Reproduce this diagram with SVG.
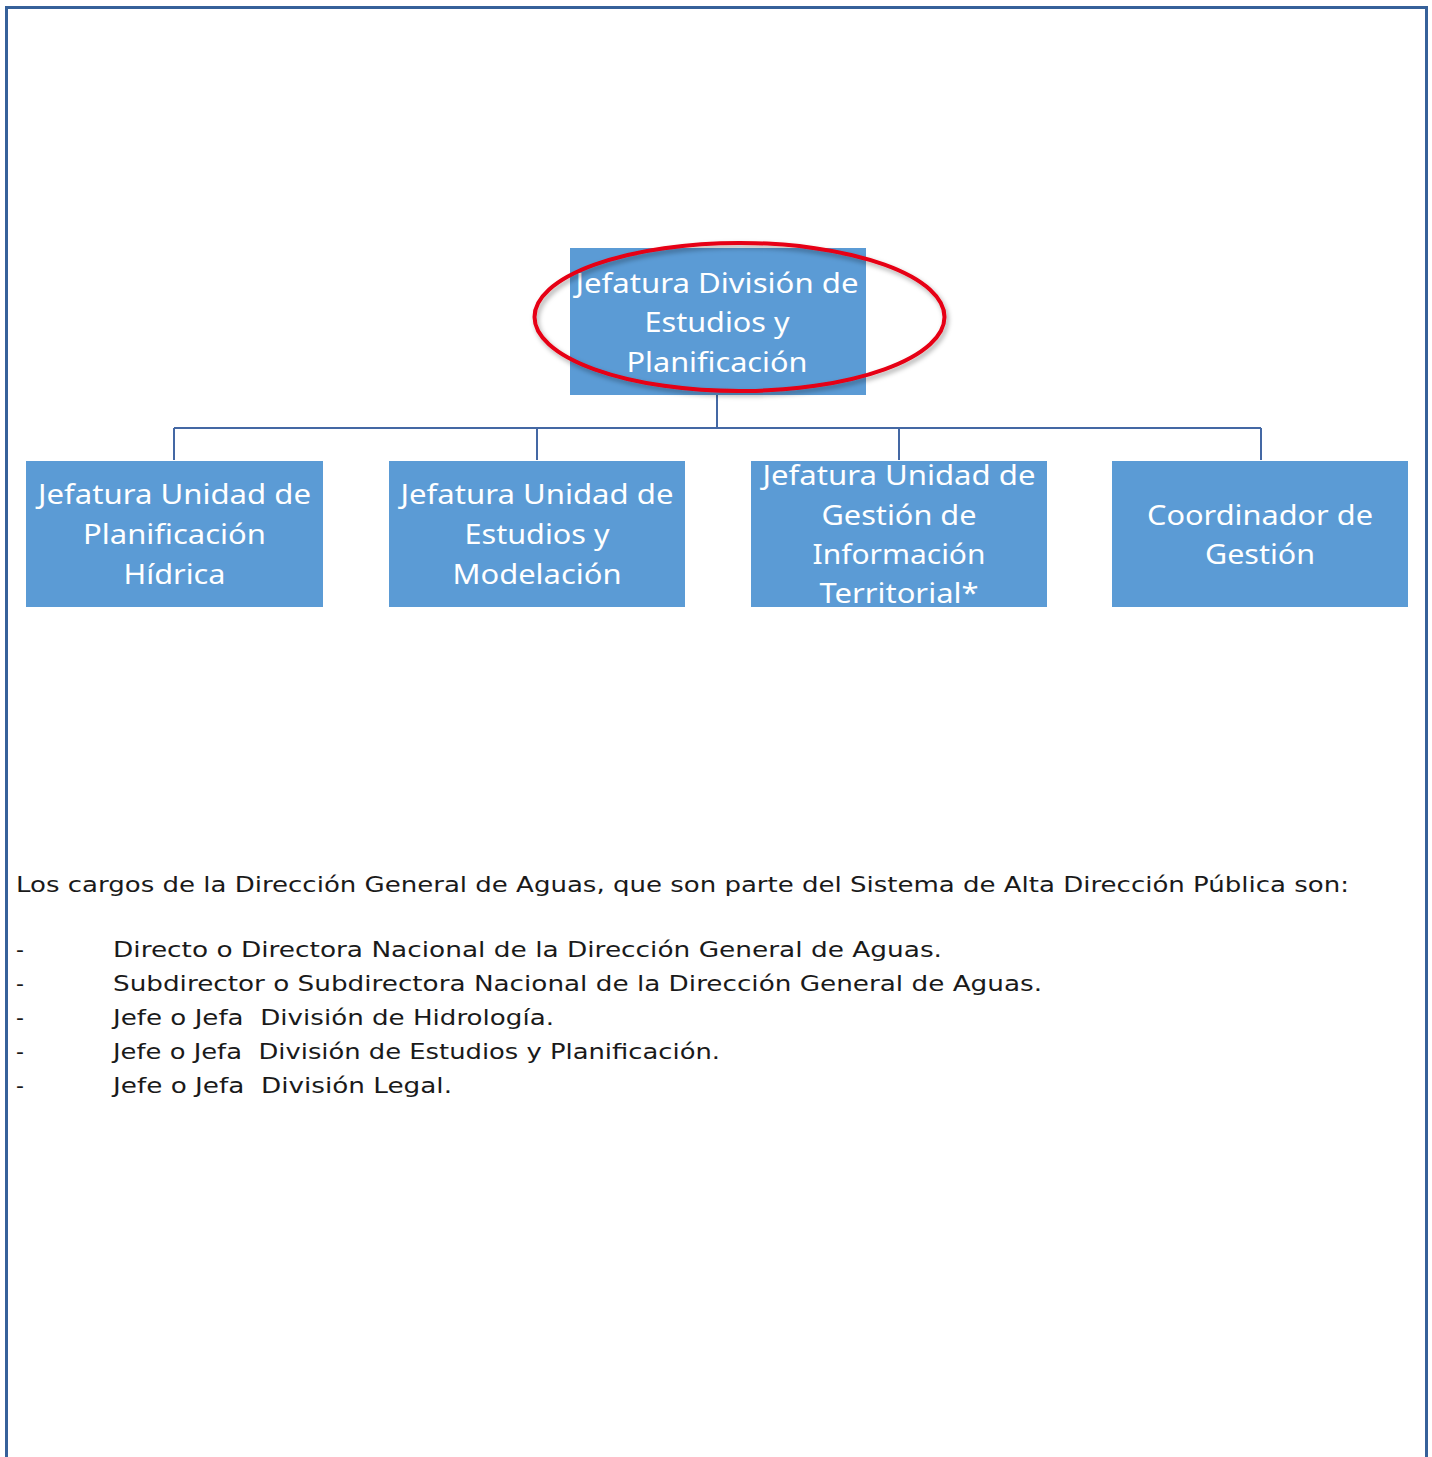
<svg xmlns="http://www.w3.org/2000/svg" width="1432" height="1457" viewBox="0 0 1432 1457">
<style>
.box{fill:#5B9BD5;}
.bt{font-family:"Noto Sans","Open Sans",sans-serif;font-size:28px;fill:#FFFFFF;text-anchor:middle;}
.body{font-family:"DejaVu Sans","Liberation Sans",sans-serif;font-size:22px;fill:#1A1A1A;}
.conn{stroke:#4468A4;stroke-width:2;fill:none;}
</style>
<defs>
<filter id="sh" x="-10%" y="-20%" width="120%" height="140%">
<feDropShadow dx="2" dy="3" stdDeviation="2.5" flood-color="#000000" flood-opacity="0.35"/>
</filter>
</defs>
<rect x="0" y="0" width="1432" height="1457" fill="#FFFFFF"/>
<path d="M6.5,1460 V7.5 H1426.5 V1460" fill="none" stroke="#36619A" stroke-width="3"/>

<g id="connectors">
<line class="conn" x1="717" y1="395" x2="717" y2="428"/>
<line class="conn" x1="174" y1="428" x2="1261" y2="428"/>
<line class="conn" x1="174" y1="428" x2="174" y2="460"/>
<line class="conn" x1="537" y1="428" x2="537" y2="460"/>
<line class="conn" x1="899" y1="428" x2="899" y2="460"/>
<line class="conn" x1="1261" y1="428" x2="1261" y2="460"/>
</g>

<g id="node-top">
<rect class="box" x="570" y="248" width="296" height="147"/>
<text class="bt" x="717" y="293" textLength="283" lengthAdjust="spacingAndGlyphs">Jefatura División de</text>
<text class="bt" x="717" y="332" textLength="145" lengthAdjust="spacingAndGlyphs">Estudios y</text>
<text class="bt" x="717" y="372" textLength="181" lengthAdjust="spacingAndGlyphs">Planificación</text>
</g>

<g id="node-1">
<rect class="box" x="26" y="461" width="297" height="146"/>
<text class="bt" x="174.5" y="504" textLength="273" lengthAdjust="spacingAndGlyphs">Jefatura Unidad de</text>
<text class="bt" x="174.5" y="544" textLength="183" lengthAdjust="spacingAndGlyphs">Planificación</text>
<text class="bt" x="174.5" y="584" textLength="102" lengthAdjust="spacingAndGlyphs">Hídrica</text>
</g>

<g id="node-2">
<rect class="box" x="389" y="461" width="296" height="146"/>
<text class="bt" x="537" y="504" textLength="273" lengthAdjust="spacingAndGlyphs">Jefatura Unidad de</text>
<text class="bt" x="537" y="544" textLength="145" lengthAdjust="spacingAndGlyphs">Estudios y</text>
<text class="bt" x="537" y="584" textLength="169" lengthAdjust="spacingAndGlyphs">Modelación</text>
</g>

<g id="node-3">
<rect class="box" x="751" y="461" width="296" height="146"/>
<text class="bt" x="899" y="485" textLength="273" lengthAdjust="spacingAndGlyphs">Jefatura Unidad de</text>
<text class="bt" x="899" y="525" textLength="155" lengthAdjust="spacingAndGlyphs">Gestión de</text>
<text class="bt" x="899" y="564" textLength="173" lengthAdjust="spacingAndGlyphs">Información</text>
<text class="bt" x="899" y="603" textLength="159" lengthAdjust="spacingAndGlyphs">Territorial*</text>
</g>

<g id="node-4">
<rect class="box" x="1112" y="461" width="296" height="146"/>
<text class="bt" x="1260" y="525" textLength="226" lengthAdjust="spacingAndGlyphs">Coordinador de</text>
<text class="bt" x="1260" y="564" textLength="110" lengthAdjust="spacingAndGlyphs">Gestión</text>
</g>

<g id="highlight">
<ellipse cx="739.5" cy="317" rx="205" ry="74" fill="none" stroke="#E60012" stroke-width="4" filter="url(#sh)"/>
</g>

<g id="body-text">
<text class="body" x="16" y="892" textLength="1333" lengthAdjust="spacingAndGlyphs">Los cargos de la Dirección General de Aguas, que son parte del Sistema de Alta Dirección Pública son:</text>
<text class="body" x="16" y="957">-</text>
<text class="body" x="113" y="957" textLength="829" lengthAdjust="spacingAndGlyphs">Directo o Directora Nacional de la Dirección General de Aguas.</text>
<text class="body" x="16" y="991">-</text>
<text class="body" x="113" y="991" textLength="929" lengthAdjust="spacingAndGlyphs">Subdirector o Subdirectora Nacional de la Dirección General de Aguas.</text>
<text class="body" x="16" y="1025">-</text>
<text class="body" x="113" y="1025" textLength="441" lengthAdjust="spacingAndGlyphs" xml:space="preserve">Jefe o Jefa  División de Hidrología.</text>
<text class="body" x="16" y="1059">-</text>
<text class="body" x="113" y="1059" textLength="607" lengthAdjust="spacingAndGlyphs" xml:space="preserve">Jefe o Jefa  División de Estudios y Planificación.</text>
<text class="body" x="16" y="1093">-</text>
<text class="body" x="113" y="1093" textLength="339" lengthAdjust="spacingAndGlyphs" xml:space="preserve">Jefe o Jefa  División Legal.</text>
</g>
</svg>
